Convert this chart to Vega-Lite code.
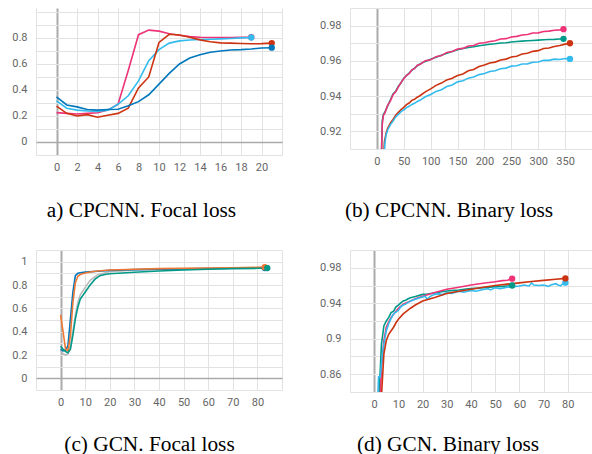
{
  "$schema": "https://vega.github.io/schema/vega-lite/v6.json",
  "autosize": {"type": "pad"},
  "padding": {"left": 11, "top": 2, "right": 0, "bottom": 0},
  "background": "white",
  "config": {
    "view": {"stroke": null},
    "axis": {
      "domain": false, "ticks": false, "labelColor": "#666666", "labelFont": "Roboto", "labelFontSize": 11,
      "labelOverlap": false, "labelFlush": false, "format": ".6~g",
      "gridColor": {"condition": {"test": "datum.value === 0", "value": "#aaaaaa"}, "value": "#e2e2e2"},
      "gridWidth": {"condition": {"test": "datum.value === 0", "value": 2}, "value": 1},
      "titleFont": "Liberation Serif", "titleFontSize": 21.3, "titleFontWeight": "normal", "titleColor": "#000000",
      "titleAlign": "center", "titleBaseline": "alphabetic"
    },
    "axisY": {"labelPadding": 9},
    "axisX": {"labelPadding": 6}
  },
  "datasets": {
    "p1": [
      {"s": "magenta", "x": 0, "y": 0.226}, {"s": "magenta", "x": 1, "y": 0.22}, {"s": "magenta", "x": 2, "y": 0.215}, {"s": "magenta", "x": 3, "y": 0.22}, {"s": "magenta", "x": 4, "y": 0.225}, {"s": "magenta", "x": 5, "y": 0.245}, {"s": "magenta", "x": 6, "y": 0.29}, {"s": "magenta", "x": 7, "y": 0.55}, {"s": "magenta", "x": 8, "y": 0.825}, {"s": "magenta", "x": 9, "y": 0.86}, {"s": "magenta", "x": 10, "y": 0.852}, {"s": "magenta", "x": 11, "y": 0.832}, {"s": "magenta", "x": 12, "y": 0.82}, {"s": "magenta", "x": 13, "y": 0.81}, {"s": "magenta", "x": 14, "y": 0.805}, {"s": "magenta", "x": 15, "y": 0.803}, {"s": "magenta", "x": 16, "y": 0.803}, {"s": "magenta", "x": 17, "y": 0.803}, {"s": "magenta", "x": 18, "y": 0.804}, {"s": "magenta", "x": 19, "y": 0.805},
      {"s": "cyan", "x": 0, "y": 0.316}, {"s": "cyan", "x": 1, "y": 0.26}, {"s": "cyan", "x": 2, "y": 0.245}, {"s": "cyan", "x": 3, "y": 0.238}, {"s": "cyan", "x": 4, "y": 0.235}, {"s": "cyan", "x": 5, "y": 0.245}, {"s": "cyan", "x": 6, "y": 0.29}, {"s": "cyan", "x": 7, "y": 0.355}, {"s": "cyan", "x": 8, "y": 0.47}, {"s": "cyan", "x": 9, "y": 0.625}, {"s": "cyan", "x": 10, "y": 0.71}, {"s": "cyan", "x": 11, "y": 0.76}, {"s": "cyan", "x": 12, "y": 0.777}, {"s": "cyan", "x": 13, "y": 0.784}, {"s": "cyan", "x": 14, "y": 0.788}, {"s": "cyan", "x": 15, "y": 0.79}, {"s": "cyan", "x": 16, "y": 0.793}, {"s": "cyan", "x": 17, "y": 0.796}, {"s": "cyan", "x": 18, "y": 0.8}, {"s": "cyan", "x": 19, "y": 0.803},
      {"s": "red", "x": 0, "y": 0.275}, {"s": "red", "x": 1, "y": 0.22}, {"s": "red", "x": 2, "y": 0.2}, {"s": "red", "x": 3, "y": 0.21}, {"s": "red", "x": 4, "y": 0.19}, {"s": "red", "x": 5, "y": 0.205}, {"s": "red", "x": 6, "y": 0.22}, {"s": "red", "x": 7, "y": 0.26}, {"s": "red", "x": 8, "y": 0.415}, {"s": "red", "x": 9, "y": 0.5}, {"s": "red", "x": 10, "y": 0.765}, {"s": "red", "x": 11, "y": 0.828}, {"s": "red", "x": 12, "y": 0.823}, {"s": "red", "x": 13, "y": 0.805}, {"s": "red", "x": 14, "y": 0.785}, {"s": "red", "x": 15, "y": 0.77}, {"s": "red", "x": 16, "y": 0.762}, {"s": "red", "x": 17, "y": 0.76}, {"s": "red", "x": 18, "y": 0.757}, {"s": "red", "x": 19, "y": 0.755}, {"s": "red", "x": 20, "y": 0.756}, {"s": "red", "x": 21, "y": 0.76},
      {"s": "blue", "x": 0, "y": 0.347}, {"s": "blue", "x": 1, "y": 0.285}, {"s": "blue", "x": 2, "y": 0.27}, {"s": "blue", "x": 3, "y": 0.25}, {"s": "blue", "x": 4, "y": 0.245}, {"s": "blue", "x": 5, "y": 0.25}, {"s": "blue", "x": 6, "y": 0.252}, {"s": "blue", "x": 7, "y": 0.278}, {"s": "blue", "x": 8, "y": 0.31}, {"s": "blue", "x": 9, "y": 0.363}, {"s": "blue", "x": 10, "y": 0.445}, {"s": "blue", "x": 11, "y": 0.527}, {"s": "blue", "x": 12, "y": 0.6}, {"s": "blue", "x": 13, "y": 0.645}, {"s": "blue", "x": 14, "y": 0.67}, {"s": "blue", "x": 15, "y": 0.69}, {"s": "blue", "x": 16, "y": 0.7}, {"s": "blue", "x": 17, "y": 0.707}, {"s": "blue", "x": 18, "y": 0.71}, {"s": "blue", "x": 19, "y": 0.715}, {"s": "blue", "x": 20, "y": 0.722}, {"s": "blue", "x": 21, "y": 0.725}
    ],
    "p2": [
      {"s": "teal", "x": 8, "y": 0.9}, {"s": "teal", "x": 10, "y": 0.926}, {"s": "teal", "x": 12, "y": 0.9295}, {"s": "teal", "x": 15, "y": 0.931}, {"s": "teal", "x": 20, "y": 0.9345}, {"s": "teal", "x": 25, "y": 0.9378}, {"s": "teal", "x": 30, "y": 0.9412}, {"s": "teal", "x": 35, "y": 0.9428}, {"s": "teal", "x": 40, "y": 0.9456}, {"s": "teal", "x": 45, "y": 0.9476}, {"s": "teal", "x": 50, "y": 0.9502}, {"s": "teal", "x": 55, "y": 0.9516}, {"s": "teal", "x": 60, "y": 0.9531}, {"s": "teal", "x": 65, "y": 0.9546}, {"s": "teal", "x": 70, "y": 0.9559}, {"s": "teal", "x": 75, "y": 0.9572}, {"s": "teal", "x": 80, "y": 0.9582}, {"s": "teal", "x": 90, "y": 0.9597}, {"s": "teal", "x": 100, "y": 0.9609}, {"s": "teal", "x": 110, "y": 0.962}, {"s": "teal", "x": 120, "y": 0.9632}, {"s": "teal", "x": 130, "y": 0.9643}, {"s": "teal", "x": 140, "y": 0.9653}, {"s": "teal", "x": 150, "y": 0.9663}, {"s": "teal", "x": 160, "y": 0.967}, {"s": "teal", "x": 170, "y": 0.9676}, {"s": "teal", "x": 180, "y": 0.968}, {"s": "teal", "x": 190, "y": 0.9686}, {"s": "teal", "x": 200, "y": 0.969}, {"s": "teal", "x": 210, "y": 0.9694}, {"s": "teal", "x": 220, "y": 0.9697}, {"s": "teal", "x": 230, "y": 0.9701}, {"s": "teal", "x": 240, "y": 0.9703}, {"s": "teal", "x": 250, "y": 0.9707}, {"s": "teal", "x": 260, "y": 0.971}, {"s": "teal", "x": 270, "y": 0.9712}, {"s": "teal", "x": 280, "y": 0.9714}, {"s": "teal", "x": 290, "y": 0.9716}, {"s": "teal", "x": 300, "y": 0.9718}, {"s": "teal", "x": 310, "y": 0.972}, {"s": "teal", "x": 320, "y": 0.9721}, {"s": "teal", "x": 330, "y": 0.9722}, {"s": "teal", "x": 340, "y": 0.9724}, {"s": "teal", "x": 347, "y": 0.9725},
      {"s": "magenta", "x": 8, "y": 0.9}, {"s": "magenta", "x": 10, "y": 0.924}, {"s": "magenta", "x": 12, "y": 0.929}, {"s": "magenta", "x": 15, "y": 0.9305}, {"s": "magenta", "x": 20, "y": 0.9348}, {"s": "magenta", "x": 25, "y": 0.9372}, {"s": "magenta", "x": 30, "y": 0.9408}, {"s": "magenta", "x": 35, "y": 0.9424}, {"s": "magenta", "x": 40, "y": 0.9452}, {"s": "magenta", "x": 45, "y": 0.9478}, {"s": "magenta", "x": 50, "y": 0.9498}, {"s": "magenta", "x": 55, "y": 0.9518}, {"s": "magenta", "x": 60, "y": 0.9527}, {"s": "magenta", "x": 65, "y": 0.9549}, {"s": "magenta", "x": 70, "y": 0.9556}, {"s": "magenta", "x": 75, "y": 0.9576}, {"s": "magenta", "x": 80, "y": 0.958}, {"s": "magenta", "x": 90, "y": 0.9601}, {"s": "magenta", "x": 100, "y": 0.9606}, {"s": "magenta", "x": 110, "y": 0.9624}, {"s": "magenta", "x": 120, "y": 0.963}, {"s": "magenta", "x": 130, "y": 0.9648}, {"s": "magenta", "x": 140, "y": 0.9653}, {"s": "magenta", "x": 150, "y": 0.9667}, {"s": "magenta", "x": 160, "y": 0.9671}, {"s": "magenta", "x": 170, "y": 0.9684}, {"s": "magenta", "x": 180, "y": 0.9687}, {"s": "magenta", "x": 190, "y": 0.97}, {"s": "magenta", "x": 200, "y": 0.9703}, {"s": "magenta", "x": 210, "y": 0.971}, {"s": "magenta", "x": 220, "y": 0.9714}, {"s": "magenta", "x": 230, "y": 0.9724}, {"s": "magenta", "x": 240, "y": 0.9726}, {"s": "magenta", "x": 250, "y": 0.9735}, {"s": "magenta", "x": 260, "y": 0.9739}, {"s": "magenta", "x": 270, "y": 0.9747}, {"s": "magenta", "x": 280, "y": 0.975}, {"s": "magenta", "x": 290, "y": 0.9758}, {"s": "magenta", "x": 300, "y": 0.9759}, {"s": "magenta", "x": 310, "y": 0.9767}, {"s": "magenta", "x": 320, "y": 0.9769}, {"s": "magenta", "x": 330, "y": 0.9774}, {"s": "magenta", "x": 340, "y": 0.9776}, {"s": "magenta", "x": 347, "y": 0.978},
      {"s": "red", "x": 12, "y": 0.902}, {"s": "red", "x": 14, "y": 0.914}, {"s": "red", "x": 17, "y": 0.9188}, {"s": "red", "x": 20, "y": 0.9218}, {"s": "red", "x": 25, "y": 0.9247}, {"s": "red", "x": 30, "y": 0.9268}, {"s": "red", "x": 35, "y": 0.9292}, {"s": "red", "x": 40, "y": 0.9308}, {"s": "red", "x": 45, "y": 0.9324}, {"s": "red", "x": 50, "y": 0.9336}, {"s": "red", "x": 55, "y": 0.9352}, {"s": "red", "x": 60, "y": 0.9361}, {"s": "red", "x": 65, "y": 0.9376}, {"s": "red", "x": 70, "y": 0.9382}, {"s": "red", "x": 75, "y": 0.9394}, {"s": "red", "x": 80, "y": 0.9402}, {"s": "red", "x": 90, "y": 0.9424}, {"s": "red", "x": 100, "y": 0.9441}, {"s": "red", "x": 110, "y": 0.9461}, {"s": "red", "x": 120, "y": 0.9474}, {"s": "red", "x": 130, "y": 0.9492}, {"s": "red", "x": 140, "y": 0.9501}, {"s": "red", "x": 150, "y": 0.9517}, {"s": "red", "x": 160, "y": 0.9526}, {"s": "red", "x": 170, "y": 0.9544}, {"s": "red", "x": 180, "y": 0.9551}, {"s": "red", "x": 190, "y": 0.9568}, {"s": "red", "x": 200, "y": 0.9576}, {"s": "red", "x": 210, "y": 0.9588}, {"s": "red", "x": 220, "y": 0.9593}, {"s": "red", "x": 230, "y": 0.9605}, {"s": "red", "x": 240, "y": 0.961}, {"s": "red", "x": 250, "y": 0.9622}, {"s": "red", "x": 260, "y": 0.9626}, {"s": "red", "x": 270, "y": 0.9639}, {"s": "red", "x": 280, "y": 0.9643}, {"s": "red", "x": 290, "y": 0.9654}, {"s": "red", "x": 300, "y": 0.9658}, {"s": "red", "x": 310, "y": 0.967}, {"s": "red", "x": 320, "y": 0.9673}, {"s": "red", "x": 330, "y": 0.9682}, {"s": "red", "x": 340, "y": 0.9687}, {"s": "red", "x": 350, "y": 0.9695}, {"s": "red", "x": 359, "y": 0.97},
      {"s": "cyan", "x": 13, "y": 0.902}, {"s": "cyan", "x": 15, "y": 0.9135}, {"s": "cyan", "x": 17, "y": 0.9178}, {"s": "cyan", "x": 20, "y": 0.9208}, {"s": "cyan", "x": 25, "y": 0.9237}, {"s": "cyan", "x": 30, "y": 0.9258}, {"s": "cyan", "x": 35, "y": 0.9282}, {"s": "cyan", "x": 40, "y": 0.9296}, {"s": "cyan", "x": 45, "y": 0.9312}, {"s": "cyan", "x": 50, "y": 0.9322}, {"s": "cyan", "x": 55, "y": 0.9335}, {"s": "cyan", "x": 60, "y": 0.9342}, {"s": "cyan", "x": 65, "y": 0.9353}, {"s": "cyan", "x": 70, "y": 0.9359}, {"s": "cyan", "x": 75, "y": 0.937}, {"s": "cyan", "x": 80, "y": 0.9376}, {"s": "cyan", "x": 90, "y": 0.9396}, {"s": "cyan", "x": 100, "y": 0.9409}, {"s": "cyan", "x": 110, "y": 0.9427}, {"s": "cyan", "x": 120, "y": 0.9436}, {"s": "cyan", "x": 130, "y": 0.9454}, {"s": "cyan", "x": 140, "y": 0.9463}, {"s": "cyan", "x": 150, "y": 0.9481}, {"s": "cyan", "x": 160, "y": 0.9487}, {"s": "cyan", "x": 170, "y": 0.9502}, {"s": "cyan", "x": 180, "y": 0.9508}, {"s": "cyan", "x": 190, "y": 0.9522}, {"s": "cyan", "x": 200, "y": 0.9528}, {"s": "cyan", "x": 210, "y": 0.954}, {"s": "cyan", "x": 220, "y": 0.9544}, {"s": "cyan", "x": 230, "y": 0.9555}, {"s": "cyan", "x": 240, "y": 0.9559}, {"s": "cyan", "x": 250, "y": 0.957}, {"s": "cyan", "x": 260, "y": 0.9572}, {"s": "cyan", "x": 270, "y": 0.9582}, {"s": "cyan", "x": 280, "y": 0.9583}, {"s": "cyan", "x": 290, "y": 0.9592}, {"s": "cyan", "x": 300, "y": 0.9594}, {"s": "cyan", "x": 310, "y": 0.9603}, {"s": "cyan", "x": 320, "y": 0.9603}, {"s": "cyan", "x": 330, "y": 0.961}, {"s": "cyan", "x": 340, "y": 0.9608}, {"s": "cyan", "x": 350, "y": 0.9613}, {"s": "cyan", "x": 359, "y": 0.9611}
    ],
    "p3": [
      {"s": "grey", "x": 0, "y": 0.24}, {"s": "grey", "x": 1, "y": 0.21}, {"s": "grey", "x": 2, "y": 0.2}, {"s": "grey", "x": 3, "y": 0.21}, {"s": "grey", "x": 4, "y": 0.28}, {"s": "grey", "x": 5, "y": 0.4}, {"s": "grey", "x": 6, "y": 0.54}, {"s": "grey", "x": 7, "y": 0.65}, {"s": "grey", "x": 8, "y": 0.715}, {"s": "grey", "x": 10, "y": 0.78}, {"s": "grey", "x": 12, "y": 0.84}, {"s": "grey", "x": 15, "y": 0.885}, {"s": "grey", "x": 20, "y": 0.915}, {"s": "grey", "x": 30, "y": 0.928}, {"s": "grey", "x": 40, "y": 0.934}, {"s": "grey", "x": 50, "y": 0.938}, {"s": "grey", "x": 60, "y": 0.941}, {"s": "grey", "x": 70, "y": 0.943}, {"s": "grey", "x": 84, "y": 0.945},
      {"s": "blue", "x": 0, "y": 0.25}, {"s": "blue", "x": 1, "y": 0.235}, {"s": "blue", "x": 2, "y": 0.24}, {"s": "blue", "x": 3, "y": 0.28}, {"s": "blue", "x": 4, "y": 0.51}, {"s": "blue", "x": 5, "y": 0.74}, {"s": "blue", "x": 6, "y": 0.88}, {"s": "blue", "x": 7, "y": 0.9}, {"s": "blue", "x": 8, "y": 0.905}, {"s": "blue", "x": 10, "y": 0.91}, {"s": "blue", "x": 15, "y": 0.918}, {"s": "blue", "x": 20, "y": 0.925}, {"s": "blue", "x": 30, "y": 0.932}, {"s": "blue", "x": 40, "y": 0.936}, {"s": "blue", "x": 50, "y": 0.938}, {"s": "blue", "x": 60, "y": 0.941}, {"s": "blue", "x": 70, "y": 0.943}, {"s": "blue", "x": 83, "y": 0.945},
      {"s": "orange", "x": 0, "y": 0.544}, {"s": "orange", "x": 1, "y": 0.4}, {"s": "orange", "x": 2, "y": 0.25}, {"s": "orange", "x": 3, "y": 0.235}, {"s": "orange", "x": 4, "y": 0.37}, {"s": "orange", "x": 5, "y": 0.65}, {"s": "orange", "x": 6, "y": 0.82}, {"s": "orange", "x": 7, "y": 0.875}, {"s": "orange", "x": 8, "y": 0.89}, {"s": "orange", "x": 10, "y": 0.903}, {"s": "orange", "x": 12, "y": 0.912}, {"s": "orange", "x": 15, "y": 0.92}, {"s": "orange", "x": 20, "y": 0.929}, {"s": "orange", "x": 30, "y": 0.935}, {"s": "orange", "x": 40, "y": 0.94}, {"s": "orange", "x": 50, "y": 0.943}, {"s": "orange", "x": 60, "y": 0.946}, {"s": "orange", "x": 70, "y": 0.948}, {"s": "orange", "x": 80, "y": 0.951}, {"s": "orange", "x": 83, "y": 0.953},
      {"s": "teal", "x": 0, "y": 0.276}, {"s": "teal", "x": 1, "y": 0.25}, {"s": "teal", "x": 2, "y": 0.23}, {"s": "teal", "x": 3, "y": 0.22}, {"s": "teal", "x": 4, "y": 0.25}, {"s": "teal", "x": 5, "y": 0.37}, {"s": "teal", "x": 6, "y": 0.51}, {"s": "teal", "x": 7, "y": 0.61}, {"s": "teal", "x": 8, "y": 0.68}, {"s": "teal", "x": 10, "y": 0.74}, {"s": "teal", "x": 12, "y": 0.8}, {"s": "teal", "x": 14, "y": 0.85}, {"s": "teal", "x": 16, "y": 0.88}, {"s": "teal", "x": 18, "y": 0.89}, {"s": "teal", "x": 20, "y": 0.897}, {"s": "teal", "x": 30, "y": 0.909}, {"s": "teal", "x": 40, "y": 0.92}, {"s": "teal", "x": 50, "y": 0.928}, {"s": "teal", "x": 60, "y": 0.935}, {"s": "teal", "x": 70, "y": 0.94}, {"s": "teal", "x": 80, "y": 0.943}, {"s": "teal", "x": 84, "y": 0.945}
    ],
    "p4": [
      {"s": "teal", "x": 2, "y": 0.835}, {"s": "teal", "x": 3, "y": 0.894}, {"s": "teal", "x": 4, "y": 0.9145}, {"s": "teal", "x": 5, "y": 0.92}, {"s": "teal", "x": 6, "y": 0.924}, {"s": "teal", "x": 7, "y": 0.9295}, {"s": "teal", "x": 8, "y": 0.931}, {"s": "teal", "x": 9, "y": 0.936}, {"s": "teal", "x": 10, "y": 0.938}, {"s": "teal", "x": 11, "y": 0.9405}, {"s": "teal", "x": 12, "y": 0.9426}, {"s": "teal", "x": 13, "y": 0.9435}, {"s": "teal", "x": 14, "y": 0.945}, {"s": "teal", "x": 15, "y": 0.9463}, {"s": "teal", "x": 17, "y": 0.9475}, {"s": "teal", "x": 20, "y": 0.95}, {"s": "teal", "x": 22, "y": 0.9505}, {"s": "teal", "x": 25, "y": 0.9515}, {"s": "teal", "x": 28, "y": 0.953}, {"s": "teal", "x": 30, "y": 0.9538}, {"s": "teal", "x": 33, "y": 0.9545}, {"s": "teal", "x": 35, "y": 0.955}, {"s": "teal", "x": 38, "y": 0.956}, {"s": "teal", "x": 40, "y": 0.9565}, {"s": "teal", "x": 43, "y": 0.957}, {"s": "teal", "x": 45, "y": 0.9575}, {"s": "teal", "x": 48, "y": 0.958}, {"s": "teal", "x": 50, "y": 0.9587}, {"s": "teal", "x": 53, "y": 0.959}, {"s": "teal", "x": 55, "y": 0.9595}, {"s": "teal", "x": 57, "y": 0.96},
      {"s": "magenta", "x": 2.5, "y": 0.835}, {"s": "magenta", "x": 3, "y": 0.868}, {"s": "magenta", "x": 4, "y": 0.898}, {"s": "magenta", "x": 5, "y": 0.913}, {"s": "magenta", "x": 6, "y": 0.919}, {"s": "magenta", "x": 7, "y": 0.924}, {"s": "magenta", "x": 8, "y": 0.9277}, {"s": "magenta", "x": 9, "y": 0.931}, {"s": "magenta", "x": 10, "y": 0.9344}, {"s": "magenta", "x": 12, "y": 0.939}, {"s": "magenta", "x": 15, "y": 0.9426}, {"s": "magenta", "x": 17, "y": 0.945}, {"s": "magenta", "x": 20, "y": 0.948}, {"s": "magenta", "x": 25, "y": 0.952}, {"s": "magenta", "x": 30, "y": 0.9557}, {"s": "magenta", "x": 35, "y": 0.958}, {"s": "magenta", "x": 40, "y": 0.9606}, {"s": "magenta", "x": 45, "y": 0.9625}, {"s": "magenta", "x": 50, "y": 0.9643}, {"s": "magenta", "x": 53, "y": 0.9655}, {"s": "magenta", "x": 55, "y": 0.966}, {"s": "magenta", "x": 57, "y": 0.9677},
      {"s": "cyan", "x": 1.5, "y": 0.835}, {"s": "cyan", "x": 1.8, "y": 0.857}, {"s": "cyan", "x": 2.5, "y": 0.857}, {"s": "cyan", "x": 3, "y": 0.872}, {"s": "cyan", "x": 4, "y": 0.894}, {"s": "cyan", "x": 5, "y": 0.909}, {"s": "cyan", "x": 6, "y": 0.917}, {"s": "cyan", "x": 7, "y": 0.923}, {"s": "cyan", "x": 8, "y": 0.928}, {"s": "cyan", "x": 9, "y": 0.93}, {"s": "cyan", "x": 10, "y": 0.932}, {"s": "cyan", "x": 11, "y": 0.936}, {"s": "cyan", "x": 12, "y": 0.938}, {"s": "cyan", "x": 13, "y": 0.939}, {"s": "cyan", "x": 15, "y": 0.9426}, {"s": "cyan", "x": 17, "y": 0.9445}, {"s": "cyan", "x": 20, "y": 0.947}, {"s": "cyan", "x": 21, "y": 0.948}, {"s": "cyan", "x": 22, "y": 0.9445}, {"s": "cyan", "x": 23, "y": 0.9475}, {"s": "cyan", "x": 25, "y": 0.95}, {"s": "cyan", "x": 27, "y": 0.9505}, {"s": "cyan", "x": 28, "y": 0.9495}, {"s": "cyan", "x": 30, "y": 0.952}, {"s": "cyan", "x": 32, "y": 0.951}, {"s": "cyan", "x": 35, "y": 0.9535}, {"s": "cyan", "x": 37, "y": 0.9525}, {"s": "cyan", "x": 40, "y": 0.9545}, {"s": "cyan", "x": 42, "y": 0.9535}, {"s": "cyan", "x": 45, "y": 0.9555}, {"s": "cyan", "x": 47, "y": 0.9565}, {"s": "cyan", "x": 48, "y": 0.955}, {"s": "cyan", "x": 50, "y": 0.9575}, {"s": "cyan", "x": 52, "y": 0.9565}, {"s": "cyan", "x": 55, "y": 0.958}, {"s": "cyan", "x": 57, "y": 0.9585}, {"s": "cyan", "x": 60, "y": 0.9595}, {"s": "cyan", "x": 62, "y": 0.9605}, {"s": "cyan", "x": 64, "y": 0.9595}, {"s": "cyan", "x": 65, "y": 0.963}, {"s": "cyan", "x": 66, "y": 0.9605}, {"s": "cyan", "x": 68, "y": 0.96}, {"s": "cyan", "x": 70, "y": 0.9606}, {"s": "cyan", "x": 72, "y": 0.959}, {"s": "cyan", "x": 73, "y": 0.9605}, {"s": "cyan", "x": 75, "y": 0.962}, {"s": "cyan", "x": 76, "y": 0.9605}, {"s": "cyan", "x": 77, "y": 0.9595}, {"s": "cyan", "x": 78, "y": 0.962}, {"s": "cyan", "x": 79, "y": 0.9632},
      {"s": "red", "x": 3, "y": 0.835}, {"s": "red", "x": 4, "y": 0.883}, {"s": "red", "x": 5, "y": 0.898}, {"s": "red", "x": 6, "y": 0.905}, {"s": "red", "x": 7, "y": 0.909}, {"s": "red", "x": 8, "y": 0.913}, {"s": "red", "x": 9, "y": 0.918}, {"s": "red", "x": 10, "y": 0.922}, {"s": "red", "x": 12, "y": 0.928}, {"s": "red", "x": 15, "y": 0.9344}, {"s": "red", "x": 17, "y": 0.938}, {"s": "red", "x": 20, "y": 0.9426}, {"s": "red", "x": 25, "y": 0.9464}, {"s": "red", "x": 30, "y": 0.951}, {"s": "red", "x": 35, "y": 0.9535}, {"s": "red", "x": 40, "y": 0.9557}, {"s": "red", "x": 45, "y": 0.958}, {"s": "red", "x": 50, "y": 0.96}, {"s": "red", "x": 55, "y": 0.9615}, {"s": "red", "x": 60, "y": 0.963}, {"s": "red", "x": 65, "y": 0.9645}, {"s": "red", "x": 70, "y": 0.9658}, {"s": "red", "x": 75, "y": 0.967}, {"s": "red", "x": 79, "y": 0.968}
    ]
  },
  "columns": 2,
  "spacing": {"row": 95, "column": 68},
  "bounds": "flush",
  "concat": [
    {
      "width": 246, "height": 147,
      "data": {"name": "p1"},
      "encoding": {
        "x": {"field": "x", "type": "quantitative", "scale": {"domain": [-2, 22], "nice": false, "zero": false},
          "axis": {"values": [-2, 0, 2, 4, 6, 8, 10, 12, 14, 16, 18, 20, 22], "labelExpr": "datum.value >= 0 && datum.value <= 20 ? datum.label : ''",
            "title": "a) CPCNN. Focal loss", "titleX": 105, "titleY": 61}},
        "y": {"field": "y", "type": "quantitative", "scale": {"domain": [-0.1, 1.03], "nice": false, "zero": false},
          "axis": {"values": [-0.1, 0, 0.1, 0.2, 0.3, 0.4, 0.5, 0.6, 0.7, 0.8, 0.9, 1.0], "labelExpr": "indexof([0, 0.2, 0.4, 0.6, 0.8], datum.value) >= 0 ? datum.label : ''",
            "gridWidth": {"condition": {"test": "datum.value === 0", "value": 1.5}, "value": 1}, "title": null}},
        "color": {"field": "s", "type": "nominal", "legend": null,
          "scale": {"domain": ["blue", "cyan", "magenta", "red", "teal", "orange", "grey"], "range": ["#0077bb", "#33bbee", "#ee3377", "#cc3311", "#009988", "#ee7733", "#bbbbbb"]}}
      },
      "layer": [
        {"mark": {"type": "line", "strokeWidth": 1.6, "clip": true}},
        {"transform": [{"joinaggregate": [{"op": "max", "field": "x", "as": "xmax"}], "groupby": ["s"]}, {"filter": "datum.x === datum.xmax"}],
          "mark": {"type": "point", "filled": true, "size": 40, "opacity": 1}}
      ]
    },
    {
      "width": 242, "height": 141,
      "data": {"name": "p2"},
      "encoding": {
        "x": {"field": "x", "type": "quantitative", "scale": {"domain": [-50, 400], "nice": false, "zero": false},
          "axis": {"values": [-50, 0, 50, 100, 150, 200, 250, 300, 350, 400], "labelExpr": "datum.value >= 0 && datum.value <= 350 ? datum.label : ''",
            "title": "(b) CPCNN. Binary loss", "titleX": 98.5, "titleY": 67}},
        "y": {"field": "y", "type": "quantitative", "scale": {"domain": [0.91, 0.99], "nice": false, "zero": false},
          "axis": {"values": [0.91, 0.92, 0.93, 0.94, 0.95, 0.96, 0.97, 0.98, 0.99], "labelExpr": "indexof([0.92, 0.94, 0.96, 0.98], datum.value) >= 0 ? datum.label : ''", "title": null}},
        "color": {"field": "s", "type": "nominal", "legend": null,
          "scale": {"domain": ["blue", "cyan", "magenta", "red", "teal", "orange", "grey"], "range": ["#0077bb", "#33bbee", "#ee3377", "#cc3311", "#009988", "#ee7733", "#bbbbbb"]}}
      },
      "layer": [
        {"mark": {"type": "line", "strokeWidth": 1.6, "clip": true}},
        {"transform": [{"joinaggregate": [{"op": "max", "field": "x", "as": "xmax"}], "groupby": ["s"]}, {"filter": "datum.x === datum.xmax"}],
          "mark": {"type": "point", "filled": true, "size": 40, "opacity": 1}}
      ]
    },
    {
      "width": 246, "height": 140,
      "data": {"name": "p3"},
      "encoding": {
        "x": {"field": "x", "type": "quantitative", "scale": {"domain": [-10, 90], "nice": false, "zero": false},
          "axis": {"values": [-10, 0, 10, 20, 30, 40, 50, 60, 70, 80, 90], "labelExpr": "datum.value >= 0 && datum.value <= 80 ? datum.label : ''",
            "title": "(c) GCN. Focal loss", "titleX": 113, "titleY": 60}},
        "y": {"field": "y", "type": "quantitative", "scale": {"domain": [-0.1, 1.1], "nice": false, "zero": false},
          "axis": {"values": [-0.1, 0, 0.1, 0.2, 0.3, 0.4, 0.5, 0.6, 0.7, 0.8, 0.9, 1.0, 1.1], "labelExpr": "indexof([0, 0.2, 0.4, 0.6, 0.8, 1], datum.value) >= 0 ? datum.label : ''",
            "gridWidth": {"condition": {"test": "datum.value === 0", "value": 1.5}, "value": 1}, "title": null}},
        "color": {"field": "s", "type": "nominal", "legend": null,
          "scale": {"domain": ["blue", "cyan", "magenta", "red", "teal", "orange", "grey"], "range": ["#0077bb", "#33bbee", "#ee3377", "#cc3311", "#009988", "#ee7733", "#bbbbbb"]}}
      },
      "layer": [
        {"mark": {"type": "line", "strokeWidth": 1.6, "clip": true}},
        {"transform": [{"joinaggregate": [{"op": "max", "field": "x", "as": "xmax"}], "groupby": ["s"]}, {"filter": "datum.x === datum.xmax"}],
          "mark": {"type": "point", "filled": true, "size": 40, "opacity": 1}}
      ]
    },
    {
      "width": 242, "height": 142,
      "data": {"name": "p4"},
      "encoding": {
        "x": {"field": "x", "type": "quantitative", "scale": {"domain": [-10, 90], "nice": false, "zero": false},
          "axis": {"values": [-10, 0, 10, 20, 30, 40, 50, 60, 70, 80, 90], "labelExpr": "datum.value >= 0 && datum.value <= 80 ? datum.label : ''",
            "title": "(d) GCN. Binary loss", "titleX": 97.5, "titleY": 58}},
        "y": {"field": "y", "type": "quantitative", "scale": {"domain": [0.84, 1.0], "nice": false, "zero": false},
          "axis": {"values": [0.84, 0.86, 0.88, 0.9, 0.92, 0.94, 0.96, 0.98, 1.0], "labelExpr": "indexof([0.86, 0.9, 0.94, 0.98], datum.value) >= 0 ? datum.label : ''", "title": null}},
        "color": {"field": "s", "type": "nominal", "legend": null,
          "scale": {"domain": ["blue", "cyan", "magenta", "red", "teal", "orange", "grey"], "range": ["#0077bb", "#33bbee", "#ee3377", "#cc3311", "#009988", "#ee7733", "#bbbbbb"]}}
      },
      "layer": [
        {"mark": {"type": "line", "strokeWidth": 1.6, "clip": true}},
        {"transform": [{"joinaggregate": [{"op": "max", "field": "x", "as": "xmax"}], "groupby": ["s"]}, {"filter": "datum.x === datum.xmax"}],
          "mark": {"type": "point", "filled": true, "size": 40, "opacity": 1}}
      ]
    }
  ]
}
